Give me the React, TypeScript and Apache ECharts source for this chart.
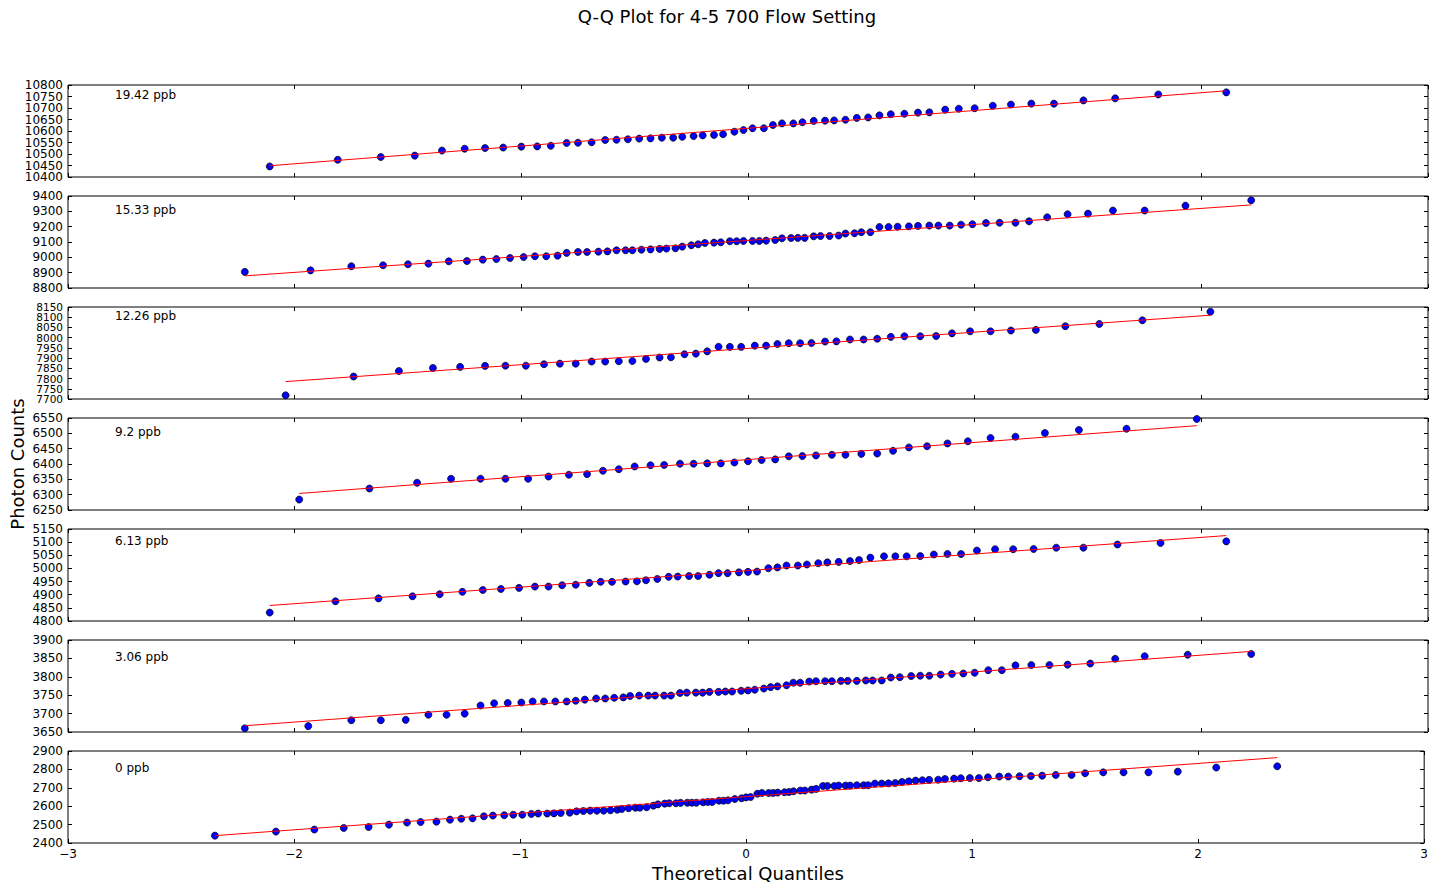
import React, { useEffect, useRef } from "react";
import * as echarts from "echarts";

const FONT = "'DejaVu Sans', sans-serif";

// ---------- data (theoretical quantiles / sorted photon counts / fit line ends) ----------
const panelLabels = ["19.42 ppb", "15.33 ppb", "12.26 ppb", "9.2 ppb", "6.13 ppb", "3.06 ppb", "0 ppb"];

const q1942 = [-2.11,-1.81,-1.62,-1.47,-1.35,-1.25,-1.16,-1.08,-1.00,-0.93,-0.87,-0.80,-0.75,-0.69,-0.63,-0.58,-0.53,-0.48,-0.43,-0.38,-0.33,-0.29,-0.24,-0.20,-0.15,-0.11,-0.06,-0.02,0.02,0.07,0.11,0.15,0.20,0.24,0.29,0.34,0.38,0.43,0.48,0.53,0.58,0.63,0.69,0.75,0.80,0.87,0.93,1.00,1.08,1.16,1.25,1.35,1.48,1.62,1.81,2.11];
const obs1942 = [10446,10475,10487,10493,10515,10523,10526,10528,10532,10533,10536,10548,10549,10551,10561,10562,10564,10567,10568,10571,10571,10575,10578,10581,10583,10586,10597,10604,10612,10612,10626,10633,10633,10638,10644,10645,10646,10649,10657,10659,10668,10673,10675,10680,10681,10693,10697,10699,10710,10715,10719,10719,10733,10742,10759,10768];
const fit1942 = [[-2.11, 10449], [2.11, 10775]];

const q1533 = [-2.22,-1.93,-1.75,-1.61,-1.50,-1.41,-1.32,-1.24,-1.17,-1.11,-1.05,-0.99,-0.94,-0.89,-0.84,-0.80,-0.75,-0.71,-0.66,-0.62,-0.58,-0.54,-0.51,-0.47,-0.43,-0.39,-0.36,-0.32,-0.29,-0.25,-0.22,-0.19,-0.15,-0.12,-0.08,-0.05,-0.02,0.02,0.05,0.08,0.12,0.15,0.19,0.22,0.25,0.29,0.32,0.36,0.40,0.43,0.47,0.50,0.54,0.58,0.62,0.66,0.71,0.75,0.80,0.84,0.89,0.94,0.99,1.05,1.11,1.18,1.24,1.32,1.41,1.50,1.61,1.75,1.93,2.22];
const obs1533 = [8905,8915,8942,8948,8955,8959,8974,8976,8985,8989,8996,9002,9007,9007,9011,9029,9035,9035,9037,9039,9046,9046,9046,9050,9052,9055,9057,9059,9070,9079,9085,9094,9096,9098,9105,9105,9107,9107,9107,9109,9113,9124,9126,9127,9127,9137,9139,9139,9142,9155,9157,9164,9164,9198,9198,9200,9202,9205,9207,9207,9207,9213,9216,9224,9226,9226,9235,9261,9281,9285,9305,9305,9337,9372];
const fit1533 = [[-2.22, 8879], [2.22, 9342]];

const q1226 = [-2.04,-1.74,-1.54,-1.39,-1.27,-1.16,-1.07,-0.98,-0.90,-0.83,-0.76,-0.69,-0.63,-0.57,-0.51,-0.45,-0.39,-0.34,-0.28,-0.23,-0.18,-0.13,-0.08,-0.03,0.03,0.08,0.13,0.18,0.23,0.28,0.34,0.39,0.45,0.51,0.57,0.63,0.69,0.76,0.83,0.90,0.98,1.07,1.16,1.27,1.40,1.55,1.74,2.04];
const obs1226 = [7718,7810,7837,7852,7857,7862,7863,7863,7870,7873,7873,7883,7883,7885,7886,7896,7903,7904,7919,7922,7933,7955,7955,7955,7961,7961,7969,7973,7973,7974,7981,7982,7991,7991,7995,8004,8007,8007,8008,8021,8031,8031,8035,8038,8056,8067,8085,8127];
const fit1226 = [[-2.04, 7785], [2.04, 8110]];

const q920 = [-1.98,-1.67,-1.46,-1.31,-1.18,-1.07,-0.97,-0.88,-0.79,-0.71,-0.64,-0.57,-0.50,-0.43,-0.37,-0.30,-0.24,-0.18,-0.12,-0.06,0.00,0.06,0.12,0.18,0.24,0.30,0.37,0.43,0.50,0.57,0.64,0.71,0.79,0.88,0.97,1.07,1.18,1.31,1.46,1.67,1.98];
const obs920 = [6284,6320,6339,6352,6352,6352,6352,6359,6365,6367,6378,6383,6392,6396,6397,6401,6401,6402,6402,6405,6409,6413,6415,6425,6426,6428,6430,6430,6433,6434,6443,6454,6458,6467,6474,6485,6489,6501,6511,6515,6547];
const fit920 = [[-1.98, 6304], [1.98, 6525]];

const q613 = [-2.11,-1.82,-1.63,-1.48,-1.36,-1.26,-1.17,-1.09,-1.01,-0.94,-0.88,-0.82,-0.76,-0.70,-0.65,-0.60,-0.54,-0.49,-0.45,-0.40,-0.35,-0.31,-0.26,-0.22,-0.17,-0.13,-0.09,-0.04,0.00,0.04,0.09,0.13,0.17,0.22,0.26,0.31,0.35,0.40,0.45,0.49,0.54,0.60,0.65,0.70,0.76,0.82,0.88,0.94,1.01,1.09,1.17,1.26,1.36,1.48,1.63,1.82,2.11];
const obs613 = [4832,4875,4886,4894,4902,4911,4918,4922,4926,4931,4931,4936,4938,4945,4949,4949,4950,4951,4955,4960,4968,4969,4971,4971,4976,4982,4982,4985,4987,4988,5001,5004,5011,5011,5015,5020,5023,5025,5028,5032,5041,5046,5046,5046,5047,5053,5055,5055,5068,5073,5073,5074,5079,5079,5091,5097,5103];
const fit613 = [[-2.11, 4859], [2.11, 5125]];

const q306 = [-2.22,-1.94,-1.75,-1.62,-1.51,-1.41,-1.33,-1.25,-1.18,-1.12,-1.06,-1.00,-0.95,-0.90,-0.85,-0.80,-0.76,-0.72,-0.67,-0.63,-0.59,-0.55,-0.52,-0.48,-0.44,-0.41,-0.37,-0.34,-0.30,-0.27,-0.23,-0.20,-0.17,-0.13,-0.10,-0.07,-0.03,0.00,0.03,0.07,0.10,0.13,0.17,0.20,0.23,0.27,0.30,0.34,0.37,0.41,0.44,0.48,0.52,0.55,0.59,0.63,0.67,0.72,0.76,0.80,0.85,0.90,0.95,1.00,1.06,1.12,1.18,1.25,1.33,1.41,1.51,1.62,1.75,1.94,2.22];
const obs306 = [3660,3666,3682,3682,3683,3697,3697,3700,3722,3728,3729,3730,3733,3733,3733,3733,3735,3738,3741,3741,3743,3744,3748,3749,3749,3749,3749,3749,3756,3757,3757,3757,3759,3759,3760,3760,3762,3763,3765,3768,3772,3774,3777,3784,3784,3787,3788,3788,3788,3789,3789,3789,3790,3790,3790,3798,3799,3802,3803,3803,3806,3808,3809,3811,3818,3818,3831,3832,3832,3833,3836,3849,3856,3860,3862];
const fit306 = [[-2.22, 3667], [2.22, 3869]];

const q0 = [-2.35,-2.08,-1.91,-1.78,-1.67,-1.58,-1.50,-1.44,-1.37,-1.31,-1.26,-1.21,-1.16,-1.12,-1.07,-1.03,-0.99,-0.95,-0.92,-0.88,-0.85,-0.82,-0.78,-0.75,-0.72,-0.69,-0.66,-0.63,-0.60,-0.57,-0.55,-0.52,-0.49,-0.47,-0.44,-0.41,-0.39,-0.36,-0.34,-0.31,-0.29,-0.26,-0.24,-0.22,-0.19,-0.17,-0.15,-0.12,-0.10,-0.08,-0.05,-0.02,0.00,0.02,0.05,0.07,0.10,0.12,0.14,0.17,0.19,0.21,0.24,0.26,0.29,0.31,0.34,0.36,0.39,0.41,0.44,0.46,0.49,0.52,0.54,0.57,0.60,0.63,0.66,0.69,0.72,0.75,0.78,0.81,0.85,0.88,0.92,0.95,0.99,1.03,1.07,1.12,1.16,1.21,1.26,1.31,1.37,1.44,1.50,1.58,1.67,1.78,1.91,2.08,2.35];
const obs0 = [2440,2462,2473,2482,2487,2500,2511,2514,2516,2527,2532,2534,2545,2549,2551,2554,2554,2558,2560,2560,2561,2563,2565,2572,2574,2576,2576,2576,2578,2581,2585,2589,2592,2592,2594,2603,2610,2614,2616,2616,2618,2619,2619,2619,2621,2623,2623,2630,2630,2632,2639,2643,2648,2650,2668,2672,2672,2672,2674,2676,2677,2681,2685,2685,2690,2694,2710,2710,2710,2712,2712,2712,2714,2714,2714,2723,2723,2724,2726,2732,2735,2739,2741,2743,2744,2748,2750,2752,2753,2753,2757,2761,2761,2763,2764,2766,2770,2770,2779,2784,2784,2784,2788,2810,2817];
const fit0 = [[-2.35, 2440], [2.35, 2864]];

// y-axis ranges and tick steps per panel
const yMins = [10400, 8800, 7700, 6250, 4800, 3650, 2400];
const yMaxs = [10800, 9400, 8150, 6550, 5150, 3900, 2900];
const ySteps = [50, 100, 50, 50, 50, 50, 100];
const xTicks = { min: -3, max: 3, step: 1 };

const quantiles = [q1942, q1533, q1226, q920, q613, q306, q0];
const observed = [obs1942, obs1533, obs1226, obs920, obs613, obs306, obs0];
const fits = [fit1942, fit1533, fit1226, fit920, fit613, fit306, fit0];

// layout
const GRID_LEFT = 68;
const GRID_WIDTH = 1360;
const GRID_TOP0 = 85;
const GRID_STEP = 111;
const GRID_H = 92;
const labelOffsets = [11, 15, 10, 15, 13, 18, 18];
const yLabelSizes = [12, 12, 10.5, 12, 12, 12, 12];

const minusFmt = (v: number) => (v < 0 ? "\u2212" + Math.abs(v) : String(v));

export default function App() {
  const ref = useRef<HTMLDivElement>(null);
  useEffect(() => {
    document.body.style.margin = "0";
    const chart = echarts.init(ref.current as HTMLDivElement, null, { renderer: "svg" });
    const n = panelLabels.length;
    const grids: any[] = [];
    const xAxes: any[] = [];
    const yAxes: any[] = [];
    const series: any[] = [];
    const graphics: any[] = [];
    const tick = { show: true, inside: true, length: 4, lineStyle: { color: "#000", width: 1 } };
    const noTick = { show: false };
    const noLine = { show: false, onZero: false };
    const labelBase = { show: true, color: "#000", fontSize: 12, fontFamily: FONT, margin: 5, showMinLabel: true, showMaxLabel: true, hideOverlap: false };
    for (let i = 0; i < n; i++) {
      const top = GRID_TOP0 + i * GRID_STEP;
      grids.push({ left: GRID_LEFT, width: GRID_WIDTH, top, height: GRID_H, show: true, borderColor: "#000", borderWidth: 1, backgroundColor: "transparent" });
      const xBase = { gridIndex: i, type: "value", min: xTicks.min, max: xTicks.max, interval: xTicks.step, axisLine: noLine, axisTick: tick, splitLine: { show: false } };
      xAxes.push({ ...xBase, position: "bottom", axisLabel: { ...labelBase, show: i === n - 1, formatter: minusFmt } });
      xAxes.push({ ...xBase, position: "top", axisLabel: { show: false } });
      const lo = yMins[i];
      const hi = yMaxs[i];
      const yLab = { ...labelBase, fontSize: yLabelSizes[i] };
      const yBase = { gridIndex: i, type: "value", min: lo, max: hi, interval: ySteps[i], axisLine: noLine, splitLine: { show: false } };
      // inner labels (min/max blank so that no label gets dropped for overlapping)
      yAxes.push({ ...yBase, position: "left", axisTick: tick, axisLabel: { ...yLab, formatter: (v: number) => (v === lo || v === hi ? "" : String(v)) } });
      // min / max labels only
      yAxes.push({ ...yBase, position: "left", axisTick: noTick, axisLabel: { ...yLab, formatter: (v: number) => (v === lo || v === hi ? String(v) : "") } });
      // right-side ticks
      yAxes.push({ ...yBase, position: "right", axisTick: tick, axisLabel: { show: false } });
      series.push({
        type: "scatter",
        xAxisIndex: 2 * i,
        yAxisIndex: 3 * i,
        data: quantiles[i].map((q, k) => [q, observed[i][k]]),
        symbol: "circle",
        symbolSize: 7,
        itemStyle: { color: "#0000ff", borderColor: "#000", borderWidth: 0.7, opacity: 1 },
        silent: true,
        z: 2,
      });
      series.push({
        type: "line",
        xAxisIndex: 2 * i,
        yAxisIndex: 3 * i,
        data: fits[i],
        symbol: "none",
        showSymbol: false,
        lineStyle: { color: "#ff0000", width: 1 },
        silent: true,
        z: 3,
      });
      graphics.push({
        type: "text",
        left: 115,
        top: top + labelOffsets[i] - 7,
        style: { text: panelLabels[i], fill: "#000", fontSize: 12, fontFamily: FONT },
      });
    }
    graphics.push({
      type: "text",
      x: 727,
      y: 16,
      style: { text: "Q-Q Plot for 4-5 700 Flow Setting", fill: "#000", fontSize: 18, fontFamily: FONT, align: "center", verticalAlign: "middle", textAlign: "center", textVerticalAlign: "middle" },
    });
    graphics.push({
      type: "text",
      x: 748,
      y: 873,
      style: { text: "Theoretical Quantiles", fill: "#000", fontSize: 18, fontFamily: FONT, align: "center", verticalAlign: "middle", textAlign: "center", textVerticalAlign: "middle" },
    });
    graphics.push({
      type: "text",
      x: 17,
      y: 464,
      rotation: Math.PI / 2,
      style: { text: "Photon Counts", fill: "#000", fontSize: 18, fontFamily: FONT, align: "center", verticalAlign: "middle", textAlign: "center", textVerticalAlign: "middle" },
    });
    chart.setOption({
      animation: false,
      backgroundColor: "#fff",
      grid: grids,
      xAxis: xAxes,
      yAxis: yAxes,
      series,
      graphic: graphics,
    });
    return () => chart.dispose();
  }, []);
  return <div ref={ref} style={{ width: 1431, height: 886 }} />;
}
